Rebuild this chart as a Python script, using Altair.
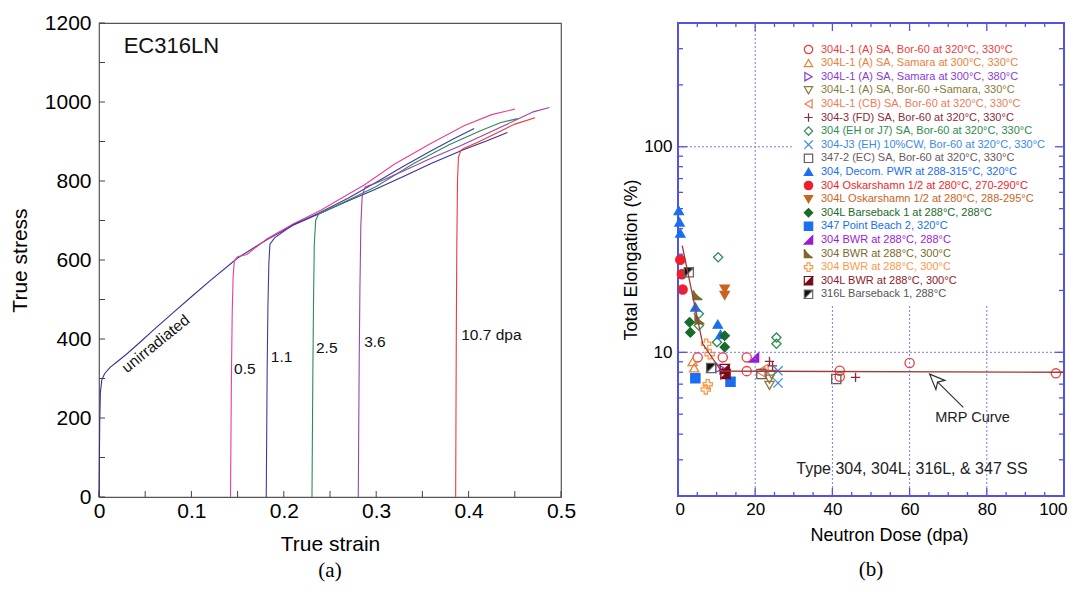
import json
import altair as alt
import pandas as pd

FONT = "Liberation Sans"

# ---------------- Panel (a): true stress-strain curves ----------------
a_curves = ["unirradiated", "0.5", "1.1", "2.5", "3.6", "10.7"]
a_colors = ["#3a2f96", "#e8408f", "#3c3aa6", "#2f8a55", "#9a44ad", "#ee3a3a"]

unirr_strain = [0.0, 0.0004, 0.0008, 0.0015, 0.003, 0.006, 0.012, 0.02, 0.03, 0.045, 0.06, 0.08, 0.1, 0.121,
                0.15, 0.182, 0.21, 0.237, 0.27, 0.298, 0.33, 0.36, 0.395, 0.42, 0.442]
unirr_stress = [0, 90, 190, 265, 296, 312, 328, 343, 362, 393, 425, 466, 507, 549,
                605, 652, 688, 716, 750, 778, 812, 845, 880, 902, 923]
d05_strain = [0.1423, 0.1427, 0.1433, 0.1442, 0.1452, 0.1465, 0.15, 0.16, 0.182, 0.21, 0.24, 0.265, 0.287,
              0.32, 0.359, 0.395, 0.425, 0.45]
d05_stress = [0, 120, 300, 470, 560, 598, 608, 614, 654, 691, 726, 760, 790, 843, 895, 940, 968, 982]
d11_strain = [0.181, 0.1814, 0.182, 0.1828, 0.1838, 0.185, 0.19, 0.21, 0.237, 0.27, 0.3, 0.33, 0.36, 0.385, 0.406]
d11_stress = [0, 130, 320, 480, 590, 640, 656, 689, 718, 757, 797, 838, 877, 908, 933]
d25_strain = [0.2305, 0.2309, 0.2315, 0.2322, 0.233, 0.2345, 0.2375, 0.25, 0.27, 0.3, 0.341, 0.38, 0.4135,
              0.435, 0.453]
d25_stress = [0, 140, 330, 500, 640, 700, 716, 730, 752, 786, 845, 893, 928, 948, 958]
d36_strain = [0.2806, 0.281, 0.2816, 0.2824, 0.2834, 0.2848, 0.288, 0.3, 0.33, 0.36, 0.39, 0.42, 0.45, 0.47, 0.4875]
d36_stress = [0, 140, 340, 530, 690, 760, 785, 795, 826, 858, 888, 920, 953, 975, 986]
d107_strain = [0.386, 0.3863, 0.3867, 0.3873, 0.388, 0.389, 0.3915, 0.395, 0.41, 0.43, 0.45, 0.472]
d107_stress = [0, 180, 420, 650, 800, 860, 877, 883, 898, 921, 944, 960]

a_lab_text = ["0.5", "1.1", "2.5", "3.6", "10.7 dpa"]
a_lab_x = [0.1462, 0.186, 0.2348, 0.287, 0.392]
a_lab_y = [325, 354, 376, 392, 409]
unirr_lab = ["unirradiated"]
unirr_lab_x = [0.0614]
unirr_lab_y = [388]
ec_lab = ["EC316LN"]
ec_lab_x = [0.0267]
ec_lab_y = [1143]

a_x_major = [0, 0.1, 0.2, 0.3, 0.4, 0.5]
a_x_ticks = [0.05 * i for i in range(11)]
a_y_major = [0, 200, 400, 600, 800, 1000, 1200]
a_y_ticks = [100 * i for i in range(13)]

# ---------------- Panel (b): total elongation vs dose ----------------
b_labels = [
    "304L-1 (A) SA, Bor-60 at 320°C, 330°C",
    "304L-1 (A) SA, Samara at 300°C, 330°C",
    "304L-1 (A) SA, Samara at 300°C, 380°C",
    "304L-1 (A) SA, Bor-60 +Samara, 330°C",
    "304L-1 (CB) SA, Bor-60 at 320°C, 330°C",
    "304-3 (FD) SA, Bor-60 at 320°C, 330°C",
    "304 (EH or J7) SA, Bor-60 at 320°C, 330°C",
    "304-J3 (EH) 10%CW, Bor-60 at 320°C, 330°C",
    "347-2 (EC) SA, Bor-60 at 320°C, 330°C",
    "304, Decom. PWR at 288-315°C, 320°C",
    "304 Oskarshamn 1/2 at 280°C, 270-290°C",
    "304L Oskarshamn 1/2 at 280°C, 288-295°C",
    "304L Barseback 1 at 288°C, 288°C",
    "347 Point Beach 2, 320°C",
    "304 BWR at 288°C, 288°C",
    "304 BWR at 288°C, 300°C",
    "304 BWR at 288°C, 300°C ",
    "304L BWR at 288°C, 300°C",
    "316L Barseback 1, 288°C",
]
b_stroke = ["#f03c3c", "#e8823c", "#8a3ad8", "#8c7a3a", "#f07a55", "#8b2a3a", "#2e8b4e", "#3a8ae8",
            "#6a5a5a", "#1a6ef0", "#f01e2a", "#c8641e", "#1a6a2a", "#1a6ef0", "#9a1ad8", "#7a6a2a",
            "#f89a4a", "#7a0a1a", "#666666"]
b_fill = ["transparent", "transparent", "transparent", "transparent", "transparent", "transparent",
          "transparent", "transparent", "transparent", "#1a6ef0", "#f01e2a", "#c8641e", "#1a6a2a",
          "#1a6ef0", "#9a1ad8", "#7a6a2a", "transparent", "#7a0a1a", "#111111"]
b_text_color = ["#f03c3c", "#e8823c", "#8a3ad8", "#8c7a3a", "#f07a55", "#8b2a3a", "#2e8b4e", "#3a8ae8",
                "#6a5a5a", "#1a6ef0", "#f01e2a", "#c8641e", "#1a6a2a", "#1a6ef0", "#9a1ad8", "#7a6a2a",
                "#f89a4a", "#8b1a2a", "#555555"]
b_shapes = [
    "circle", "triangle-up", "triangle-right", "triangle-down", "triangle-left",
    "M-1,0L1,0M0,-1L0,1",
    "diamond",
    "M-1,-1L1,1M-1,1L1,-1",
    "square", "triangle-up", "circle", "triangle-down", "diamond", "square",
    "M1,-1L1,1L-1,1Z",
    "M-1,-1L-1,1L1,1Q-0.3,0.3-1,-1Z",
    "M-0.35,-1L0.35,-1L0.35,-0.35L1,-0.35L1,0.35L0.35,0.35L0.35,1L-0.35,1L-0.35,0.35L-1,0.35L-1,-0.35L-0.35,-0.35Z",
    "M-1,-1L1,-1L1,1L-1,1Z M-1,-1L-1,1L1,-1Z",
    "M-1,-1L1,-1L1,1L-1,1Z M1,-1L-1,1L1,1Z",
]
b_x = [
    [5.1, 11.6, 17.8, 17.8, 41.9, 41.9, 60.0, 97.9],
    [3.8, 4.2],
    [10.8],
    [23.7, 23.7, 24.2],
    [22.3, 21.5],
    [23.7, 24.5, 46.0],
    [10.4, 5.4, 5.4, 10.1, 25.5, 25.5],
    [25.9, 25.9],
    [21.6, 41.0],
    [0.2, 0.4, 0.6, 4.5, 10.3, 11.0],
    [0.6, 1.0, 1.2],
    [12.1, 12.1],
    [3.0, 3.2, 12.1, 12.1],
    [4.5, 13.6],
    [19.7],
    [5.1, 5.6],
    [7.3, 8.2, 7.7, 7.2],
    [12.1, 12.3],
    [2.8, 8.6],
]
b_y = [
    [9.45, 9.45, 9.45, 8.1, 8.13, 7.6, 8.87, 7.9],
    [9.0, 8.4],
    [8.4],
    [7.4, 6.9, 7.8],
    [8.3, 8.0],
    [9.04, 8.6, 7.55],
    [29.0, 15.4, 13.5, 11.2, 11.8, 11.0],
    [8.13, 7.09],
    [7.84, 7.41],
    [48.9, 43.0, 38.0, 16.6, 13.7, 12.2],
    [28.2, 24.0, 20.2],
    [20.3, 18.9],
    [14.0, 12.5, 12.05, 10.6],
    [7.47, 7.19],
    [9.45],
    [19.0, 14.5],
    [11.0, 9.8, 7.0, 6.6],
    [8.3, 7.84],
    [24.5, 8.39],
]
mrp_x = [1.1, 6.4, 11.2, 100]
mrp_y = [33.0, 11.0, 8.1, 8.0]

arrow_x = [73.9, 65.2]
arrow_y = [5.4, 7.83]
arrow_head_x = [65.2]
arrow_head_y = [7.83]
note_text = ["Type 304, 304L, 316L, & 347 SS", "MRP Curve"]
note_x = [60.6, 76.3]
note_y = [2.70, 4.79]
note_size = [16, 14.5]

grid_v_x = [20, 40, 60, 80]
grid_v_y1 = [2, 2, 2, 2]
grid_v_y2 = [400, 16.8, 16.8, 16.8]
grid_h_y = [10, 100]
grid_h_x1 = [0, 0]
grid_h_x2 = [100, 30]

b_x_major = [0, 20, 40, 60, 80, 100]
b_x_minor = [v for v in range(5, 100, 5) if v % 20 != 0]
b_y_major = [10, 100]
b_y_minor = [2, 3, 4, 5, 6, 7, 8, 9, 20, 30, 40, 50, 60, 70, 80, 90, 200, 300]

# ---------------- scales and axes ----------------
WA, HA = 462, 474
WB, HB = 386, 473
xa = alt.Scale(domain=[0, 0.5], nice=False)
ya = alt.Scale(domain=[0, 1200], nice=False)
xb = alt.Scale(domain=[0, 100], nice=False)
yb = alt.Scale(type="log", domain=[2, 400], nice=False)
BLUE = "#5252e6"

ax_a_x = alt.Axis(values=a_x_major, format="~g", title="True strain", ticks=False, domain=False, grid=False,
                  labelFontSize=21, titleFontSize=21, labelPadding=3, titlePadding=12, labelFlush=False,
                  labelColor="black", titleColor="black", titleFontWeight="normal")
ax_a_y = alt.Axis(values=a_y_major, format="d", title="True stress", ticks=False, domain=False, grid=False,
                  labelFontSize=21, titleFontSize=21, labelPadding=8, titlePadding=14,
                  labelColor="black", titleColor="black", titleFontWeight="normal")
ax_b_x = alt.Axis(values=b_x_major, format="d", title="Neutron Dose (dpa)", ticks=False, domain=False,
                  grid=False, labelFontSize=17, titleFontSize=18, labelPadding=5, titlePadding=9,
                  labelFlush=True, labelFlushOffset=3, labelColor="black", titleColor="black",
                  titleFontWeight="normal", titleX=211)
ax_b_y = alt.Axis(values=b_y_major, format="d", title="Total Elongation (%)", ticks=False, domain=False,
                  grid=False, labelFontSize=17, titleFontSize=18, labelPadding=6, titlePadding=3,
                  labelColor="black", titleColor="black", titleFontWeight="normal")


def XA(f):
    return alt.X(f, scale=xa, axis=ax_a_x)


def YA(f):
    return alt.Y(f, scale=ya, axis=ax_a_y)


def XB(f):
    return alt.X(f, scale=xb, axis=ax_b_x)


def YB(f):
    return alt.Y(f, scale=yb, axis=ax_b_y)


def tick_rules(vals, orient, length, color, XF, YF, W, H, sw=1.0):
    df = pd.DataFrame({"v": vals})
    m = alt.Chart(df).mark_rule(color=color, strokeWidth=sw)
    if orient in ("bottom", "top"):
        enc = {"x": XF("v:Q")}
        if orient == "bottom":
            enc.update(y=alt.value(H), y2=alt.value(H - length))
        else:
            enc.update(y=alt.value(0), y2=alt.value(length))
    else:
        enc = {"y": YF("v:Q")}
        if orient == "left":
            enc.update(x=alt.value(0), x2=alt.value(length))
        else:
            enc.update(x=alt.value(W), x2=alt.value(W - length))
    return m.encode(**enc)


# ---------------- Panel (a) ----------------
rows = []
for name, xs, ys in zip(a_curves,
                        [unirr_strain, d05_strain, d11_strain, d25_strain, d36_strain, d107_strain],
                        [unirr_stress, d05_stress, d11_stress, d25_stress, d36_stress, d107_stress]):
    for i, (sx, sy) in enumerate(zip(xs, ys)):
        rows.append({"curve": name, "i": i, "strain": sx, "stress": sy})
df_a = pd.DataFrame(rows)

lines_a = alt.Chart(df_a).mark_line(strokeWidth=1.1).encode(
    x=XA("strain:Q"), y=YA("stress:Q"),
    color=alt.Color("curve:N", scale=alt.Scale(domain=a_curves, range=a_colors), legend=None),
    detail="curve:N",
    order=alt.Order("i:Q"),
)

lab_a = alt.Chart(pd.DataFrame({"t": a_lab_text, "x": a_lab_x, "y": a_lab_y})).mark_text(
    align="left", baseline="middle", fontSize=15.5, color="#111").encode(
    x=XA("x:Q"), y=YA("y:Q"), text="t:N")
unirr_t = alt.Chart(pd.DataFrame({"t": unirr_lab, "x": unirr_lab_x, "y": unirr_lab_y})).mark_text(
    align="center", baseline="middle", fontSize=15.5, angle=321, color="#111").encode(
    x=XA("x:Q"), y=YA("y:Q"), text="t:N")
ec_t = alt.Chart(pd.DataFrame({"t": ec_lab, "x": ec_lab_x, "y": ec_lab_y})).mark_text(
    align="left", baseline="middle", fontSize=22, color="#111").encode(
    x=XA("x:Q"), y=YA("y:Q"), text="t:N")

panel_a = alt.layer(
    lines_a,
    tick_rules(a_x_ticks, "bottom", 6, "#444", XA, YA, WA, HA),
    tick_rules(a_y_ticks, "left", 6, "#444", XA, YA, WA, HA),
    lab_a, unirr_t, ec_t,
).properties(
    width=WA, height=HA,
    view=alt.ViewBackground(stroke="#555555", strokeWidth=1.2),
    title=alt.TitleParams("(a)", orient="bottom", font="Liberation Serif", fontSize=21,
                          fontWeight="normal", color="black", offset=6),
)

# ---------------- Panel (b) ----------------
prow = []
for lab, xs, ys in zip(b_labels, b_x, b_y):
    for px, py in zip(xs, ys):
        prow.append({"series": lab, "dose": px, "elong": py})
df_b = pd.DataFrame(prow)

color_expr = "{}[indexof({}, datum.value)]".format(
    json.dumps(b_text_color, ensure_ascii=False), json.dumps(b_labels, ensure_ascii=False))
leg = alt.Legend(title=None, orient="none", legendX=121, legendY=17, fillColor="white", padding=4,
                 labelFont=FONT, labelFontSize=11, labelLimit=320, symbolSize=70, symbolStrokeWidth=1.2,
                 rowPadding=1.6, clipHeight=11, labelOffset=7, labelColor={"expr": color_expr})

points_b = alt.Chart(df_b).mark_point(size=85, strokeWidth=1.3, opacity=1).encode(
    x=XB("dose:Q"), y=YB("elong:Q"),
    shape=alt.Shape("series:N", scale=alt.Scale(domain=b_labels, range=b_shapes), legend=leg),
    stroke=alt.Stroke("series:N", scale=alt.Scale(domain=b_labels, range=b_stroke), legend=leg),
    fill=alt.Fill("series:N", scale=alt.Scale(domain=b_labels, range=b_fill), legend=leg),
)

grid_v = alt.Chart(pd.DataFrame({"x": grid_v_x, "y1": grid_v_y1, "y2": grid_v_y2})).mark_rule(
    color="#7a7aee", strokeWidth=1, strokeDash=[2, 2]).encode(
    x=XB("x:Q"), y=YB("y1:Q"), y2="y2:Q")
grid_h = alt.Chart(pd.DataFrame({"y": grid_h_y, "x1": grid_h_x1, "x2": grid_h_x2})).mark_rule(
    color="#7a7aee", strokeWidth=1, strokeDash=[2, 2]).encode(
    y=YB("y:Q"), x=XB("x1:Q"), x2="x2:Q")

mrp = alt.Chart(pd.DataFrame({"x": mrp_x, "y": mrp_y, "i": list(range(len(mrp_x)))})).mark_line(
    color="#a03a3a", strokeWidth=1.3).encode(
    x=XB("x:Q"), y=YB("y:Q"), order="i:Q")

arrow = alt.Chart(pd.DataFrame({"x": arrow_x, "y": arrow_y, "i": [0, 1]})).mark_line(
    color="#333", strokeWidth=1.2).encode(
    x=XB("x:Q"), y=YB("y:Q"), order="i:Q")
arrow_head = alt.Chart(pd.DataFrame({"x": arrow_head_x, "y": arrow_head_y})).mark_point(
    shape="M0,0L0.8,1.9L0,1.4L-0.8,1.9Z", size=256, angle=315, fill="white", stroke="#333",
    strokeWidth=1.2, opacity=1, filled=False).encode(
    x=XB("x:Q"), y=YB("y:Q"))

notes = alt.Chart(pd.DataFrame({"t": note_text, "x": note_x, "y": note_y, "s": note_size})).mark_text(
    align="center", baseline="middle", color="#222").encode(
    x=XB("x:Q"), y=YB("y:Q"), text="t:N",
    size=alt.Size("s:Q", scale=None, legend=None))

panel_b = alt.layer(
    points_b,
    grid_v, grid_h,
    tick_rules(b_x_major, "bottom", 8, BLUE, XB, YB, WB, HB, 1.3),
    tick_rules(b_x_minor, "bottom", 4, BLUE, XB, YB, WB, HB, 1.3),
    tick_rules(b_x_major, "top", 8, BLUE, XB, YB, WB, HB, 1.3),
    tick_rules(b_x_minor, "top", 4, BLUE, XB, YB, WB, HB, 1.3),
    tick_rules(b_y_major, "left", 9, BLUE, XB, YB, WB, HB, 1.3),
    tick_rules(b_y_minor, "left", 5, BLUE, XB, YB, WB, HB, 1.3),
    tick_rules(b_y_major, "right", 9, BLUE, XB, YB, WB, HB, 1.3),
    tick_rules(b_y_minor, "right", 5, BLUE, XB, YB, WB, HB, 1.3),
    mrp, arrow, arrow_head, notes,
).properties(
    width=WB, height=HB,
    view=alt.ViewBackground(stroke=BLUE, strokeWidth=2),
    title=alt.TitleParams("(b)", orient="bottom", font="Liberation Serif", fontSize=21,
                          fontWeight="normal", color="black", offset=15),
)

chart = alt.hconcat(panel_a, panel_b, spacing=44).resolve_scale(
    shape="independent", fill="independent", stroke="independent", color="independent",
).resolve_legend(
    shape="independent", fill="independent", stroke="independent", color="independent",
).properties(
    padding={"left": 0, "top": 3, "right": 0, "bottom": 0},
    background="white",
).configure(font=FONT).configure_view(strokeWidth=0)

chart.save("out.html", embed_options={"renderer": "svg", "actions": False})
